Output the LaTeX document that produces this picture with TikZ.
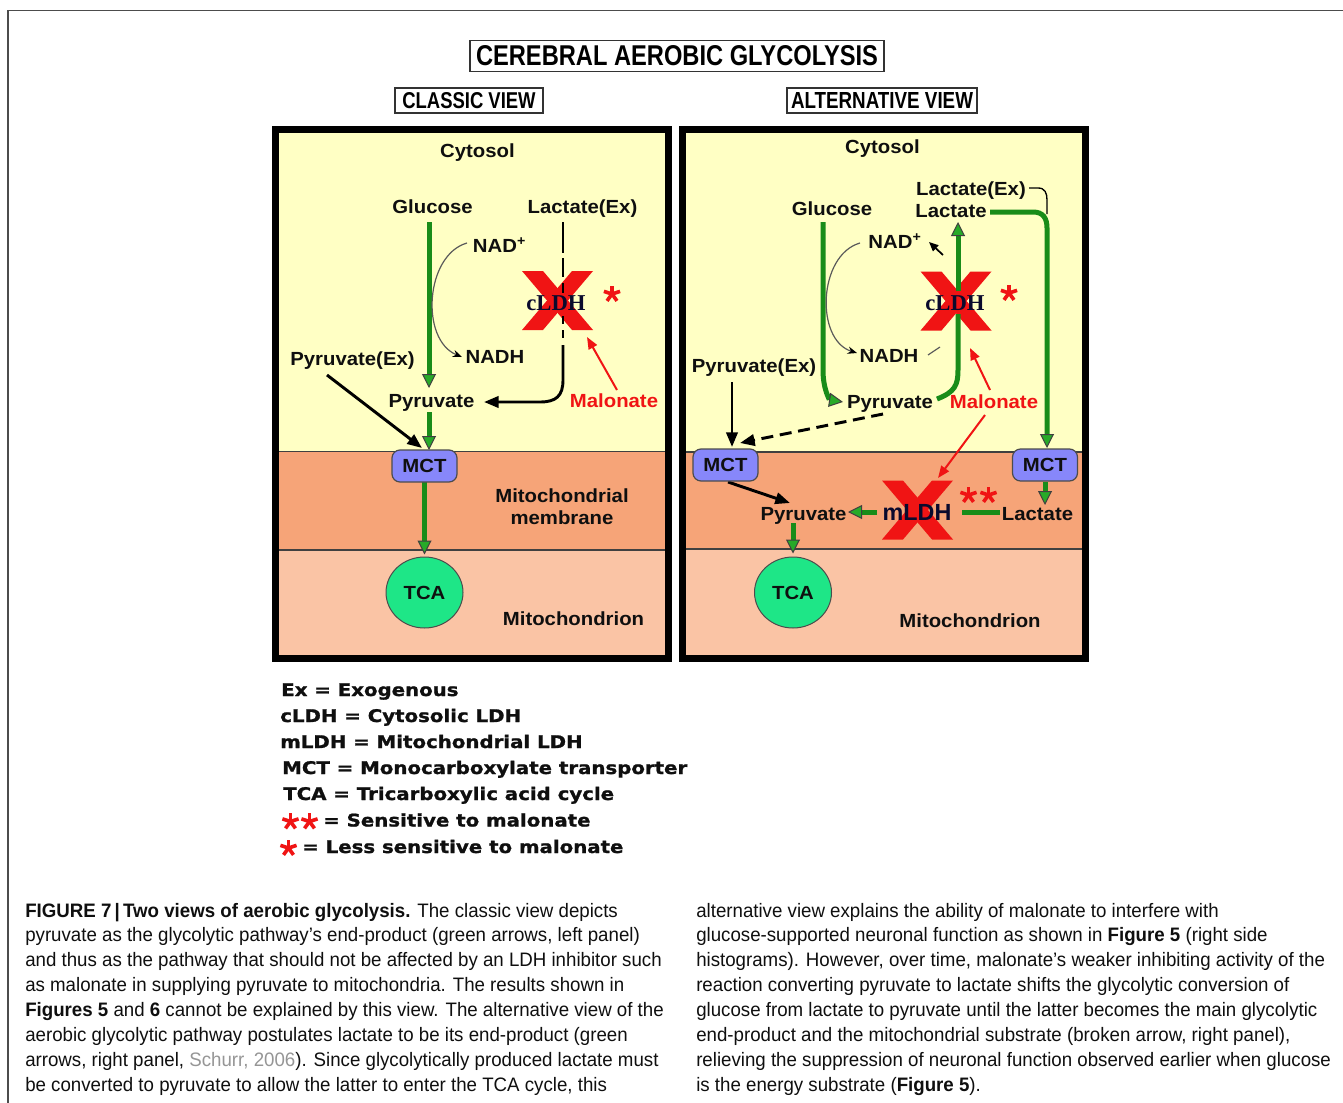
\documentclass[tikz,border=0pt]{standalone}
\usepackage{fontspec}
\usepackage{graphicx}
\setmainfont{Liberation Sans}
\newfontfamily\labf{Liberation Sans}[FakeStretch=1.07]
\newfontfamily\legf{DejaVu Sans}[FakeStretch=1.135,FakeBold=1.2]
\newfontfamily\capf{Liberation Sans}[FakeStretch=0.96]
\newfontfamily\serf{Liberation Serif}
\usetikzlibrary{arrows.meta,calc,shapes.geometric}
\pgfdeclarelayer{bg}
\pgfdeclarelayer{mid}
\pgfsetlayers{bg,mid,main}
\definecolor{cyto}{RGB}{255,255,196}
\definecolor{memb}{RGB}{246,164,120}
\definecolor{mito}{RGB}{250,196,165}
\definecolor{gcol}{RGB}{25,140,25}
\definecolor{gtip}{RGB}{40,170,40}
\definecolor{xred}{RGB}{240,20,20}
\definecolor{mctc}{RGB}{135,135,250}
\definecolor{tcac}{RGB}{30,230,135}
\definecolor{capgray}{RGB}{150,150,150}
\definecolor{curvegray}{RGB}{90,90,90}
\definecolor{labc}{RGB}{15,15,15}
\definecolor{ldhc}{RGB}{10,10,45}
\tikzset{
  lab/.style={inner sep=0pt, anchor=base, text=labc, font=\labf\bfseries\fontsize{14.25pt}{16.5pt}\selectfont},
  ldh/.style={inner sep=0pt, anchor=base, text=ldhc, font=\serf\bfseries\fontsize{17pt}{20pt}\selectfont},
  mldh/.style={inner sep=0pt, anchor=base, text=ldhc, font=\bfseries\fontsize{17.5pt}{20pt}\selectfont},
  legl/.style={inner sep=0pt, anchor=base west, text=labc, font=\legf\bfseries\fontsize{13.05pt}{16pt}\selectfont},
  capl/.style={inner sep=0pt, anchor=base west, text=labc, font=\capf\fontsize{14.6pt}{17pt}\selectfont},
  mct/.style={draw=black!70, fill=mctc, line width=0.9pt, rounded corners=6pt, minimum width=48.75pt, minimum height=24pt, inner sep=0pt, text=labc, font=\labf\bfseries\fontsize{14.25pt}{16.5pt}\selectfont},
  tca/.style={ellipse, draw=black!70, fill=tcac, line width=0.75pt, minimum width=57.75pt, minimum height=53.25pt, inner sep=0pt, text=labc, font=\labf\bfseries\fontsize{14.25pt}{16.5pt}\selectfont},
  titlebox/.style={draw=black!80, line width=1.1pt, inner ysep=4pt},
  gpath/.style={draw=gcol, line width=3.75pt},
  garrow/.style={gpath, -{Triangle[length=10.5pt,width=10.5pt,fill=gtip,color=black!75,line width=0.75pt]}},
  kline/.style={draw=black, line width=2.2pt},
  karrow/.style={kline, -{Triangle[length=11pt,width=8.5pt]}},
  karrowsmall/.style={draw=black, line width=1.3pt, -{Triangle[length=7pt,width=6pt]}},
  dasharrow/.style={karrow, dash pattern=on 9pt off 5pt},
  rarrow/.style={draw=xred, line width=1.5pt, -{Triangle[length=9pt,width=7pt]}},
  cline/.style={draw=curvegray, line width=0.9pt},
  carrow/.style={cline, -{Stealth[length=7pt,width=5.5pt,color=black]}},
  thinline/.style={draw=black, line width=1pt},
  redx/.pic={\fill[xred] (-35.5,-29.5) -- (-14.5,-29.5) -- (35.5,29.5) -- (14.5,29.5) -- cycle;
             \fill[xred] (35.5,-29.5) -- (14.5,-29.5) -- (-35.5,29.5) -- (-14.5,29.5) -- cycle;},
  astk/.pic={\foreach \a in {-90,-18,-162,54,126} \draw[xred,line width=2.7pt] (0,0) -- (\a:8.5);}
}
\begin{document}
\begin{tikzpicture}[x=0.75pt,y=-0.75pt]
\useasboundingbox (0,0) rectangle (1343,1103);
\begin{pgfonlayer}{bg}
  \fill[white] (0,0) rectangle (1343,1103);
  \draw[draw=black!70, line width=1.1pt] (8,1103) -- (8,10.5) -- (1343,10.5);
  % left panel
  \fill[cyto] (275.5,129) rectangle (668.5,451.5);
  \fill[memb] (275.5,451.5) rectangle (668.5,550);
  \fill[mito] (275.5,550) rectangle (668.5,658.5);
  \draw[black!75, line width=1pt] (275.5,451.5) -- (668.5,451.5) (275.5,550) -- (668.5,550);
  \draw[black, line width=5.25pt] (275.5,129) rectangle (668.5,658.5);
  % right panel
  \fill[cyto] (682.5,129) rectangle (1085,452);
  \fill[memb] (682.5,452) rectangle (1085,549);
  \fill[mito] (682.5,549) rectangle (1085,658.5);
  \draw[black!75, line width=1pt] (682.5,452) -- (1085,452) (682.5,549) -- (1085,549);
  \draw[black, line width=5.25pt] (682.5,129) rectangle (1085,658.5);
\end{pgfonlayer}

% titles
\node[titlebox, inner xsep=4.5pt] (title) at (677,56) {\resizebox{301.5pt}{15pt}{\bfseries CEREBRAL AEROBIC GLYCOLYSIS}};
\node[titlebox, inner xsep=5.6pt, inner ysep=3.4pt] (cview) at (469,100.5) {\resizebox{100pt}{12pt}{\bfseries CLASSIC VIEW}};
\node[titlebox, inner xsep=3pt, inner ysep=3.4pt] (aview) at (882,100.5) {\resizebox{136.5pt}{12pt}{\bfseries ALTERNATIVE VIEW}};

% X marks
\coordinate (xL) at (557.5,300.5);
\coordinate (xR) at (956,301);
\coordinate (xM) at (917.5,510);

% left panel labels
\node[lab] (cytL) at (477.5,157) {Cytosol};
\node[lab] (glcL) at (432.5,213) {Glucose};
\node[lab] (lexL) at (582.5,213) {Lactate(Ex)};
\node[lab] (nadL) at (499.5,252) {NAD\textsuperscript{+}};
\node[ldh] (ldhL) at (556,310) {cLDH};
\node[lab] (nadhL) at (495,363) {NADH};
\node[lab] (pexL) at (352.5,365) {Pyruvate(Ex)};
\node[lab] (pyrL) at (431.5,407) {Pyruvate};
\node[lab, text=xred] (malL) at (614,407) {Malonate};
\node[mct] (mctL) at (424.5,466) {MCT};
\node[lab, anchor=center, align=center] (memL) at (562,507) {Mitochondrial\\membrane};
\node[tca] (tcaL) at (424.5,592.5) {TCA};
\node[lab] (mitoL) at (573.5,625) {Mitochondrion};

% right panel labels
\node[lab] (cytR) at (882.5,153) {Cytosol};
\node[lab] (lexR) at (971,195) {Lactate(Ex)};
\node[lab] (lacR) at (951,217) {Lactate};
\node[lab] (glcR) at (832,215) {Glucose};
\node[lab] (nadR) at (895,248) {NAD\textsuperscript{+}};
\node[ldh] (ldhR) at (955,310) {cLDH};
\node[lab] (nadhR) at (889,362) {NADH};
\node[lab] (pexR) at (754,372) {Pyruvate(Ex)};
\node[lab] (pyrR) at (890,408) {Pyruvate};
\node[lab, text=xred] (malR) at (994,408) {Malonate};
\node[mct] (mctR1) at (725.5,465) {MCT};
\node[mct] (mctR2) at (1045,465) {MCT};
\node[lab] (pyrM) at (803.5,520) {Pyruvate};
\node[mldh] (mldh) at (917,520) {mLDH};
\node[lab] (lacM) at (1037.5,520) {Lactate};
\node[tca] (tcaR) at (793,592.5) {TCA};
\node[lab] (mitoR) at (970,627) {Mitochondrion};

\begin{pgfonlayer}{mid}
  \pic at (xL) {redx};
  \pic at (xR) {redx};
  \pic at (xM) {redx};
  \pic at (612,294) {astk};
  \pic at (1009,293) {astk};
  \pic at (968.5,495) {astk};
  \pic at (988.5,495) {astk};
  % ---- left connectors
  \draw[garrow] ($(glcL.base)+(-3.5,9)$) -- ($(pyrL.base)+(-2.5,-19)$);
  \draw[garrow] ($(pyrL.base)+(-2.5,5)$) -- ($(mctL.center)+(4.5,-16)$);
  \draw[garrow] ($(mctL.center)+(0,16)$) -- ($(tcaL.north)+(0,-2)$);
  \draw[karrow] ($(pexL.base)+(-25.5,10)$) -- ($(mctL.center)+(-2.5,-18)$);
  \draw[carrow] ($(nadL.base)+(-32.5,-9)$) .. controls +(-42,12) and +(-42,-17) .. ($(nadhL.base)+(-33,-6)$);
  \draw[kline] ($(lexL.base)+(-19.5,9)$) -- ($(lexL.base)+(-19.5,40)$);
  \draw[kline, dash pattern=on 14.25pt off 4.5pt] ($(lexL.base)+(-19.5,45)$) -- ($(lexL.base)+(-19.5,80)$);
  \draw[kline, dash pattern=on 6pt off 4.5pt] ($(lexL.base)+(-19.5,103)$) -- ($(lexL.base)+(-19.5,127)$);
  \draw[karrow] ($(lexL.base)+(-19.5,132)$) -- ($(lexL.base)+(-19.5,167)$) .. controls +(0,16) and +(16,0) .. ($(pyrL.base)+(108.5,-5)$) -- ($(pyrL.base)+(52.5,-5)$);
  \draw[rarrow] ($(malL.base)+(3,-17)$) -- ($(xL)+(29.5,36.5)$);
  % ---- right connectors
  \draw[garrow] ($(glcR.base)+(-9,7)$) -- ($(glcR.base)+(-9,155)$) .. controls +(0,20) and +(-13,-2) .. ($(pyrR.base)+(-47,-6)$);
  \draw[gpath] ($(pyrR.base)+(47,-9)$) .. controls +(18,-7) and +(0,15) .. ($(lacR.base)+(7,153)$) -- ($(lacR.base)+(7,97)$);
  \draw[garrow] ($(lacR.base)+(7,74)$) -- ($(lacR.base)+(7,5)$);
  \draw[garrow] ($(lacR.base)+(39,-5)$) -- ($(lacR.base)+(82,-5)$) .. controls +(10,0) and +(0,-10) .. ($(lacR.base)+(96,11)$) -- ($(mctR2.center)+(2,-17)$);
  \draw[thinline] ($(lexR.base)+(58,-7)$) -- ($(lexR.base)+(67,-7)$) .. controls +(7,0) and +(0,-7) .. ($(lexR.base)+(76,5)$) -- ($(lexR.base)+(76,19)$);
  \draw[karrowsmall] ($(nadR.base)+(48,7)$) -- ($(nadR.base)+(34,-6)$);
  \draw[carrow] ($(nadR.base)+(-35,-5)$) .. controls +(-42,12) and +(-42,-13) .. ($(nadhR.base)+(-32,-9)$);
  \draw[cline] ($(nadhR.base)+(39,-7)$) -- ($(nadhR.base)+(51,-15)$);
  \draw[karrow] ($(pexR.base)+(-22,10)$) -- ($(mctR1.center)+(6.5,-18)$);
  \draw[dasharrow] ($(pyrR.base)+(-7,6)$) -- ($(mctR1.center)+(14.5,-22)$);
  \draw[rarrow] ($(malR.base)+(-4,-18)$) -- ($(xR)+(14,47)$);
  \draw[rarrow] ($(malR.base)+(-9,7)$) -- ($(xM)+(20.5,-32)$);
  \draw[karrow] ($(mctR1.center)+(2.5,17)$) -- ($(pyrM.base)+(-13.5,-17)$);
  \draw[garrow] ($(mldh.base)+(-40,-8)$) -- ($(pyrM.base)+(44.5,-8)$);
  \draw[gpath] ($(mldh.base)+(45,-8)$) -- ($(lacM.base)+(-37.5,-8)$);
  \draw[garrow] ($(mctR2.center)+(0,17)$) -- ($(lacM.base)+(7.5,-15)$);
  \draw[garrow] ($(pyrM.base)+(-10.5,3)$) -- ($(tcaR.north)+(0,-3)$);
  % legend asterisks
  \pic at (290.5,821.5) {astk};
  \pic at (309.5,821.5) {astk};
  \pic at (288.5,848) {astk};
\end{pgfonlayer}

% legend
\node[legl] (lg1) at (281,696) {Ex = Exogenous};
\node[legl] (lg2) at (280,722) {cLDH = Cytosolic LDH};
\node[legl] (lg3) at (280,748) {mLDH = Mitochondrial LDH};
\node[legl] (lg4) at (282,774) {MCT = Monocarboxylate transporter};
\node[legl] (lg5) at (283,800) {TCA = Tricarboxylic acid cycle};
\node[legl] (lg6) at (323,826.5) {= Sensitive to malonate};
\node[legl] (lg7) at (302,853) {= Less sensitive to malonate};

% caption
\node[capl] (c1) at (25,917) {{\bfseries FIGURE 7\,|\,Two views of aerobic glycolysis.} The classic view depicts};
\node[capl] (c2) at (25,941.9) {pyruvate as the glycolytic pathway’s end-product (green arrows, left panel)};
\node[capl] (c3) at (25,966.8) {and thus as the pathway that should not be affected by an LDH inhibitor such};
\node[capl] (c4) at (25,991.7) {as malonate in supplying pyruvate to mitochondria. The results shown in};
\node[capl] (c5) at (25,1016.6) {{\bfseries Figures 5} and {\bfseries 6} cannot be explained by this view. The alternative view of the};
\node[capl] (c6) at (25,1041.5) {aerobic glycolytic pathway postulates lactate to be its end-product (green};
\node[capl] (c7) at (25,1066.4) {arrows, right panel, \textcolor{capgray}{Schurr, 2006}). Since glycolytically produced lactate must};
\node[capl] (c8) at (25,1091.3) {be converted to pyruvate to allow the latter to enter the TCA cycle, this};
\node[capl] (d1) at (696,917) {alternative view explains the ability of malonate to interfere with};
\node[capl] (d2) at (696,941.9) {glucose-supported neuronal function as shown in {\bfseries Figure 5} (right side};
\node[capl] (d3) at (696,966.8) {histograms). However, over time, malonate’s weaker inhibiting activity of the};
\node[capl] (d4) at (696,991.7) {reaction converting pyruvate to lactate shifts the glycolytic conversion of};
\node[capl] (d5) at (696,1016.6) {glucose from lactate to pyruvate until the latter becomes the main glycolytic};
\node[capl] (d6) at (696,1041.5) {end-product and the mitochondrial substrate (broken arrow, right panel),};
\node[capl] (d7) at (696,1066.4) {relieving the suppression of neuronal function observed earlier when glucose};
\node[capl] (d8) at (696,1091.3) {is the energy substrate ({\bfseries Figure 5}).};
\end{tikzpicture}
\end{document}
